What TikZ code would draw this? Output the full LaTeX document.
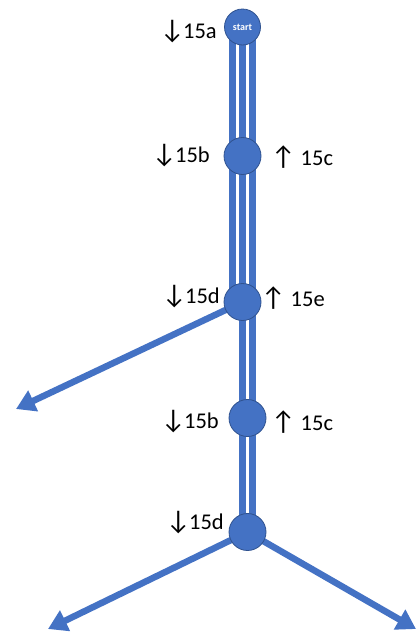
\documentclass[tikz,border=0pt]{standalone}
\usepackage{fontspec}
\setmainfont{Carlito}
\usetikzlibrary{arrows.meta}
\definecolor{pblue}{HTML}{4472C4}
\definecolor{pedge}{HTML}{2F528F}
\newcommand{\dn}{{\fontsize{27}{24}\selectfont ↓}\kern-1.5pt}
\newcommand{\upa}{{\fontsize{27}{24}\selectfont ↑}}
\tikzset{
  stop/.style={circle, fill=pblue, draw=pedge, line width=0.8pt, minimum size=37pt, inner sep=0pt},
  bar/.style={draw=pblue, line width=7pt},
  branch/.style={draw=pblue, line width=6.5pt, -{Triangle[length=19pt,width=22pt]}},
  lab/.style={inner sep=0pt, anchor=west, font=\fontsize{22.5}{24}\selectfont}
}
\begin{document}
\begin{tikzpicture}[x=1pt,y=-1pt]
\useasboundingbox (0,0) rectangle (419,632);
% node positions
\coordinate (ps) at (242.5,27);
\coordinate (p2) at (242.5,156);
\coordinate (p3) at (242.5,302);
\coordinate (p4) at (247.5,418);
\coordinate (p5) at (247.5,532);
\coordinate (t3) at (16,409);
\coordinate (t5l) at (48,629);
\coordinate (t5r) at (416,629);
% triple lines
\foreach \d in {-10,0,10}{
  \draw[bar] ([xshift=\d]ps) -- ([xshift=\d]p2);
  \draw[bar] ([xshift=\d]p2) -- ([xshift=\d]p3);
}
% double lines
\draw[bar] (p3) -- ([xshift=-5]p4);
\draw[bar] ([xshift=10]p3) -- ([xshift=5]p4);
\draw[bar] ([xshift=-5]p4) -- ([xshift=-5]p5);
\draw[bar] ([xshift=5]p4) -- ([xshift=5]p5);
% branches
\draw[branch] (p3) -- (t3);
\draw[branch] (p5) -- (t5l);
\draw[branch] (p5) -- (t5r);
% stops
\node[stop, minimum size=36pt] (s) at (ps) {\textcolor{white}{\fontsize{10}{11}\selectfont\bfseries start}};
\node[stop] (n2) at (p2) {};
\node[stop] (n3) at (p3) {};
\node[stop] (n4) at (p4) {};
\node[stop] (n5) at (p5) {};
% labels
\node[lab] (la) at (160,32) {\dn15a};
\node[lab] (lb1) at (152,156) {\dn15b};
\node[lab] (lc1) at (271,157) {\upa\ 15c};
\node[lab] (ld1) at (162,297) {\dn15d};
\node[lab] (le) at (261,298) {\upa\ 15e};
\node[lab] (lb2) at (161,422) {\dn15b};
\node[lab] (lc2) at (271,422) {\upa\ 15c};
\node[lab] (ld2) at (166,523) {\dn15d};
\end{tikzpicture}
\end{document}
